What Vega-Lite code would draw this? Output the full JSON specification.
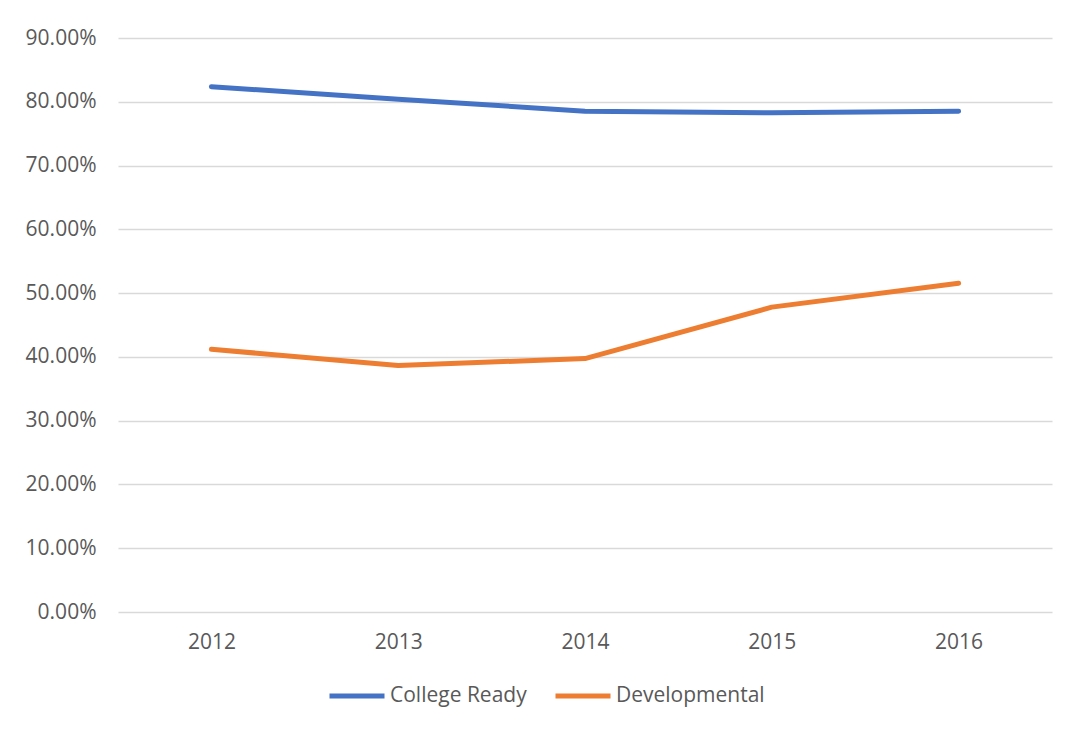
{
  "$schema": "https://vega.github.io/schema/vega-lite/v6.json",
  "width": 934,
  "height": 574,
  "autosize": {"type": "none"},
  "padding": {"left": 118, "top": 38, "right": 16, "bottom": 117},
  "background": "white",
  "data": {
    "values": [
      {"year": "2012", "series": "College Ready", "value": 0.8236},
      {"year": "2013", "series": "College Ready", "value": 0.8040},
      {"year": "2014", "series": "College Ready", "value": 0.7853},
      {"year": "2015", "series": "College Ready", "value": 0.7827},
      {"year": "2016", "series": "College Ready", "value": 0.7853},
      {"year": "2012", "series": "Developmental", "value": 0.4120},
      {"year": "2013", "series": "Developmental", "value": 0.3865},
      {"year": "2014", "series": "Developmental", "value": 0.3974},
      {"year": "2015", "series": "Developmental", "value": 0.4780},
      {"year": "2016", "series": "Developmental", "value": 0.5156}
    ]
  },
  "mark": {"type": "line", "strokeWidth": 5, "strokeCap": "round", "strokeJoin": "round"},
  "encoding": {
    "x": {
      "field": "year",
      "type": "ordinal",
      "scale": {"type": "point", "padding": 0.5},
      "axis": {"title": null, "labelAngle": 0, "ticks": false, "domain": false, "grid": false, "labelPadding": 19}
    },
    "y": {
      "field": "value",
      "type": "quantitative",
      "scale": {"domain": [0, 0.9], "nice": false},
      "axis": {
        "title": null,
        "values": [0, 0.1, 0.2, 0.3, 0.4, 0.5, 0.6, 0.7, 0.8, 0.9],
        "format": ".2%",
        "ticks": false,
        "domain": false,
        "labelPadding": 22,
        "gridColor": "#D9D9D9",
        "gridWidth": 1.3
      }
    },
    "color": {
      "field": "series",
      "type": "nominal",
      "scale": {"domain": ["College Ready", "Developmental"], "range": ["#4472C4", "#ED7D31"]},
      "legend": {
        "title": null,
        "orient": "none",
        "legendX": 209,
        "legendY": 628,
        "direction": "horizontal",
        "symbolType": "stroke",
        "symbolSize": 3025,
        "symbolStrokeWidth": 5,
        "labelOffset": 3,
        "columnPadding": 18
      }
    }
  },
  "config": {
    "view": {"stroke": null},
    "font": "Open Sans",
    "axis": {"labelFontSize": 21, "labelColor": "#595959"},
    "legend": {"labelFontSize": 21, "labelColor": "#595959"}
  }
}
